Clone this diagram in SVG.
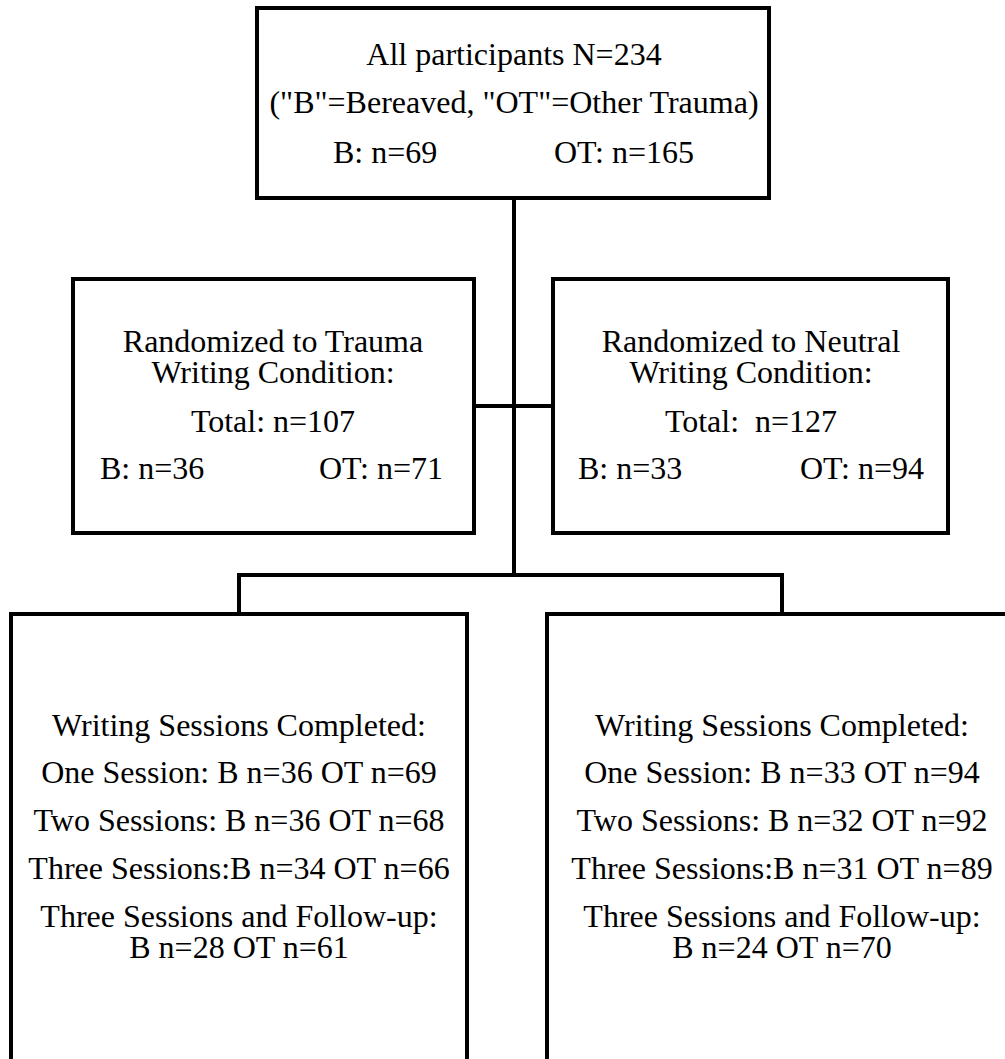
<svg xmlns="http://www.w3.org/2000/svg" width="1005" height="1059" viewBox="0 0 1005 1059" font-family="'Liberation Serif', 'Times New Roman', 'DejaVu Serif', serif" font-size="32">
<style>
.box{fill:#fff;stroke:#000;stroke-width:4}
.ln{fill:none;stroke:#000;stroke-width:4}
text{font-family:'Liberation Serif','Times New Roman','DejaVu Serif',serif;font-size:32px;fill:#000}
.c{text-anchor:middle}
.e{text-anchor:end}
</style>
<rect width="1005" height="1059" fill="#fff"/>
<g id="connectors">
<line class="ln" x1="514" y1="198" x2="514" y2="575"/>
<line class="ln" x1="474" y1="406" x2="553" y2="406"/>
<polyline class="ln" points="239,614 239,575 782,575 782,614"/>
</g>
<g id="all">
<rect class="box" x="257" y="8" width="512" height="190"/>
<text class="c" x="514" y="65">All participants N=234</text>
<text class="c" x="514" y="113">("B"=Bereaved, "OT"=Other Trauma)</text>
<text x="333" y="163">B: n=69</text>
<text class="e" x="694" y="163">OT: n=165</text>
</g>
<g id="trauma">
<rect class="box" x="73" y="279" width="401" height="254"/>
<text class="c" x="273" y="352">Randomized to Trauma</text>
<text class="c" x="273" y="383">Writing Condition:</text>
<text class="c" x="273" y="432">Total: n=107</text>
<text x="100" y="479">B: n=36</text>
<text class="e" x="443" y="479">OT: n=71</text>
</g>
<g id="neutral">
<rect class="box" x="553" y="279" width="395" height="254"/>
<text class="c" x="751" y="352">Randomized to Neutral</text>
<text class="c" x="751" y="383">Writing Condition:</text>
<text class="c" x="751" y="432" xml:space="preserve">Total:  n=127</text>
<text x="578" y="479">B: n=33</text>
<text class="e" x="924" y="479">OT: n=94</text>
</g>
<g id="trauma-sessions">
<rect class="box" x="11" y="614" width="456" height="460"/>
<text class="c" x="239" y="736">Writing Sessions Completed:</text>
<text class="c" x="239" y="783">One Session: B n=36 OT n=69</text>
<text class="c" x="239" y="831">Two Sessions: B n=36 OT n=68</text>
<text class="c" x="239" y="879">Three Sessions:B n=34 OT n=66</text>
<text class="c" x="239" y="927">Three Sessions and Follow-up:</text>
<text class="c" x="239" y="958">B n=28 OT n=61</text>
</g>
<g id="neutral-sessions">
<rect class="box" x="547" y="614" width="470" height="460"/>
<text class="c" x="782" y="736">Writing Sessions Completed:</text>
<text class="c" x="782" y="783">One Session: B n=33 OT n=94</text>
<text class="c" x="782" y="831">Two Sessions: B n=32 OT n=92</text>
<text class="c" x="782" y="879">Three Sessions:B n=31 OT n=89</text>
<text class="c" x="782" y="927">Three Sessions and Follow-up:</text>
<text class="c" x="782" y="958">B n=24 OT n=70</text>
</g>
</svg>
